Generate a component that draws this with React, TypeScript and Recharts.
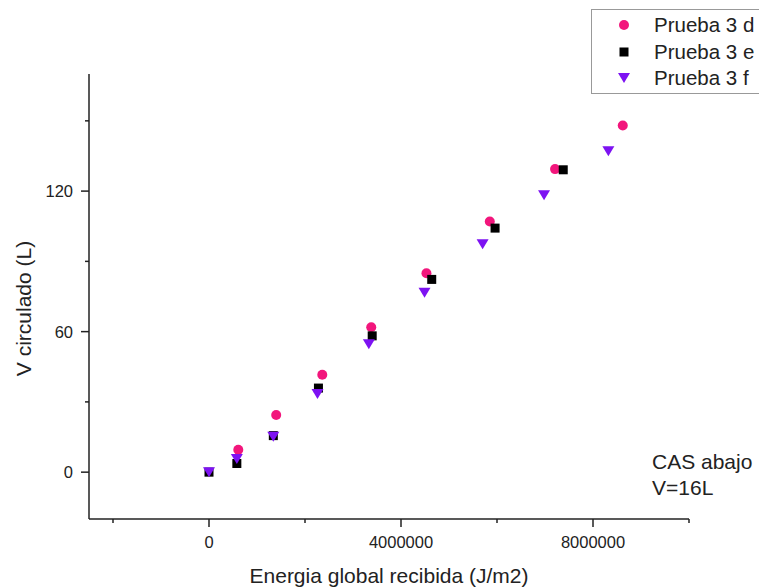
import { ScatterChart, Scatter, XAxis, YAxis, Legend, Customized } from "recharts";

const FONT = '"Liberation Sans", Arial, sans-serif';
const PINK = "#f2167c";
const VIOLET = "#7d12f2";

// Prueba 3 d (circles)
const dX = [610000, 1400000, 2360000, 3380000, 4530000, 5850000, 7210000, 8620000];
const dY = [9.6, 24.4, 41.6, 61.9, 84.9, 107, 129.4, 148];
// Prueba 3 e (squares)
const eX = [0, 580000, 1340000, 2280000, 3400000, 4640000, 5960000, 7380000];
const eY = [0, 3.7, 15.6, 35.9, 58.2, 82.3, 104.2, 129.1];
// Prueba 3 f (down triangles)
const fX = [0, 580000, 1340000, 2260000, 3330000, 4490000, 5700000, 6980000, 8320000];
const fY = [0, 5.6, 15.1, 33.4, 54.6, 76.6, 97.3, 118.2, 137];

const xTicks = [-2000000, 0, 2000000, 4000000, 6000000, 8000000, 10000000];
const xLabels = [0, 4000000, 8000000];
const yTicks = [0, 30, 60, 90, 120, 150];
const yLabels = [0, 60, 120];

const toPts = (xs: number[], ys: number[]) => xs.map((x, i) => ({ x, y: ys[i] }));

const Circle = ({ cx, cy }: any) => <circle cx={cx} cy={cy} r={5} fill={PINK} />;
const Square = ({ cx, cy }: any) => <rect x={cx - 4.5} y={cy - 4.5} width={9} height={9} fill="#000" />;
const TriDown = ({ cx, cy }: any) => (
  <path d={`M${cx - 6},${cy - 5}L${cx + 6},${cy - 5}L${cx},${cy + 5}Z`} fill={VIOLET} />
);

const series = [
  { name: "Prueba 3 d", data: toPts(dX, dY), shape: Circle },
  { name: "Prueba 3 e", data: toPts(eX, eY), shape: Square },
  { name: "Prueba 3 f", data: toPts(fX, fY), shape: TriDown },
];

const XTick = ({ x, y, payload }: any) => {
  const major = xLabels.includes(payload.value);
  return (
    <g>
      <line x1={x} x2={x} y1={y} y2={y + (major ? 8 : 4)} stroke="#222" strokeWidth={1.5} />
      {major && (
        <text x={x} y={y + 23} textAnchor="middle" dominantBaseline="central" fontSize={16.5} fontFamily={FONT} fill="#222">
          {payload.value}
        </text>
      )}
    </g>
  );
};

const YTick = ({ x, y, payload }: any) => {
  const major = yLabels.includes(payload.value);
  return (
    <g>
      <line x1={x - (major ? 8 : 4)} x2={x} y1={y} y2={y} stroke="#222" strokeWidth={1.5} />
      {major && (
        <text x={x - 16} y={y} textAnchor="end" dominantBaseline="central" fontSize={16.5} fontFamily={FONT} fill="#222">
          {payload.value}
        </text>
      )}
    </g>
  );
};

const YTitle = ({ viewBox }: any) => {
  const cx = 23;
  const cy = viewBox.y + viewBox.height / 2 + 12;
  return (
    <text x={cx} y={cy} transform={`rotate(-90, ${cx}, ${cy})`} textAnchor="middle" dominantBaseline="central" fontSize={21} fontFamily={FONT} fill="#222">
      V circulado (L)
    </text>
  );
};

const LegendBox = () => (
  <div style={{ border: "1px solid #999", background: "#fff", paddingTop: 2, paddingBottom: 1, fontFamily: FONT, fontSize: 20.5, color: "#222" }}>
    {series.map((s) => (
      <div key={s.name} style={{ display: "flex", alignItems: "center", height: 26.5 }}>
        <svg width={20} height={20} style={{ marginLeft: 22 }}>
          <s.shape cx={10} cy={10} />
        </svg>
        <span style={{ marginLeft: 20, whiteSpace: "nowrap" }}>{s.name}</span>
      </div>
    ))}
  </div>
);

const Note = () => (
  <text fontSize={21} fontFamily={FONT} fill="#222">
    <tspan x={652} y={469}>CAS abajo</tspan>
    <tspan x={652} y={495}>V=16L</tspan>
  </text>
);

export default function App() {
  return (
    <div style={{ position: "absolute", left: 0, top: 0, width: 759, height: 588, overflow: "hidden", background: "#fff", fontFamily: FONT }}>
      <ScatterChart width={759} height={588} margin={{ top: 74, right: 70, bottom: 0, left: 0 }}>
        <XAxis
          type="number"
          dataKey="x"
          domain={[-2500000, 10000000]}
          ticks={xTicks}
          interval={0}
          allowDataOverflow
          height={69}
          tickSize={0}
          tickMargin={0}
          tickLine={false}
          tick={<XTick />}
          axisLine={{ stroke: "#222", strokeWidth: 1.5 }}
          label={{ value: "Energia global recibida (J/m2)", position: "insideBottom", offset: 5, fontSize: 21, fontFamily: FONT, fill: "#222" }}
        />
        <YAxis
          type="number"
          dataKey="y"
          domain={[-20, 170]}
          ticks={yTicks}
          interval={0}
          allowDataOverflow
          width={89}
          tickSize={0}
          tickMargin={0}
          tickLine={false}
          tick={<YTick />}
          axisLine={{ stroke: "#222", strokeWidth: 1.5 }}
          label={{ content: <YTitle /> }}
        />
        {series.map((s) => (
          <Scatter key={s.name} name={s.name} data={s.data} shape={s.shape} isAnimationActive={false} />
        ))}
        <Legend
          layout="vertical"
          align="center"
          verticalAlign="middle"
          content={<LegendBox />}
          wrapperStyle={{ left: 591, top: 9, width: 200 }}
        />
        <Customized component={<Note />} />
      </ScatterChart>
    </div>
  );
}
